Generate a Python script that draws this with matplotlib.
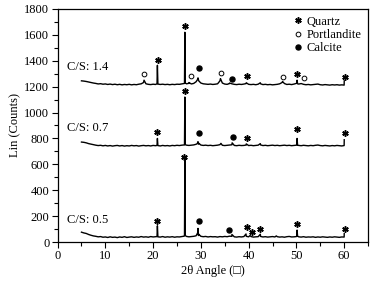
import matplotlib
matplotlib.use('Agg')
import matplotlib.pyplot as plt
import numpy as np

plt.rcParams['font.family'] = ['Liberation Serif', 'DejaVu Serif']
plt.rcParams['font.size'] = 9

# 2theta sampling grid of the traces (5..60 deg, 0.5 deg)
angle = np.arange(5, 60.25, 0.5)

# background counts
b05 = [76, 70, 66, 58, 52, 47, 44, 40, 42, 37, 39, 35, 40, 36, 38, 34, 39, 36, 41, 35,
       38, 40, 36, 39, 37, 42, 38, 40, 37, 42, 39, 41, 40, 38, 42, 37, 40, 38, 41, 37,
       40, 39, 42, 45, 43, 40, 42, 44, 48, 50, 44, 41, 43, 39, 42, 40, 41, 38, 42, 40,
       43, 41, 45, 44, 40, 38, 41, 39, 42, 44, 40, 42, 38, 40, 41, 43, 39, 41, 38, 40,
       42, 39, 41, 38, 40, 37, 41, 43, 39, 40, 42, 40, 38, 41, 37, 39, 38, 40, 36, 39,
       37, 40, 38, 36, 39, 37, 40, 38, 36, 39, 38]
b07 = [772, 770, 766, 760, 756, 752, 748, 745, 747, 743, 746, 742, 745, 741, 744, 746, 742, 745, 741, 744,
       742, 746, 743, 745, 741, 744, 746, 743, 745, 742, 746, 744, 745, 742, 746, 743, 745, 742, 746, 744,
       747, 745, 748, 750, 748, 746, 748, 750, 755, 756, 749, 746, 748, 745, 747, 744, 746, 748, 752, 747,
       745, 747, 749, 751, 746, 744, 747, 745, 746, 749, 745, 747, 744, 746, 748, 750, 745, 747, 744, 746,
       748, 745, 747, 744, 746, 748, 745, 747, 744, 746, 748, 746, 744, 747, 745, 743, 746, 744, 747, 749,
       745, 743, 746, 744, 742, 745, 743, 746, 744, 742, 745]
b14 = [1245, 1243, 1240, 1236, 1232, 1228, 1225, 1221, 1223, 1219, 1221, 1217, 1220, 1216, 1219, 1215, 1218, 1214, 1217, 1215,
       1218, 1214, 1217, 1215, 1219, 1222, 1232, 1222, 1218, 1216, 1219, 1217, 1220, 1217, 1219, 1216, 1218, 1215, 1218, 1216,
       1219, 1218, 1221, 1224, 1222, 1226, 1221, 1225, 1238, 1250, 1228, 1222, 1220, 1218, 1220, 1217, 1219, 1222, 1245, 1228,
       1220, 1218, 1224, 1222, 1218, 1216, 1219, 1217, 1220, 1224, 1218, 1216, 1218, 1215, 1219, 1222, 1216, 1218, 1215, 1217,
       1214, 1216, 1218, 1222, 1232, 1224, 1217, 1219, 1216, 1220, 1225, 1220, 1224, 1218, 1215, 1217, 1214, 1216, 1218, 1220,
       1215, 1213, 1216, 1214, 1212, 1215, 1213, 1215, 1212, 1214, 1212]

# sharp reflections (angle, counts)
pk05_x = [20.82, 20.9, 20.98, 26.57, 26.65, 26.73, 29.32, 29.4, 29.5, 36.5, 39.45, 40.3, 42.45, 45.8, 50.08, 50.15, 50.25, 60.02]
pk05_y = [42, 125, 41, 48, 640, 50, 70, 105, 62, 58, 62, 50, 60, 47, 48, 92, 45, 65]
pk07_x = [20.82, 20.9, 20.98, 26.57, 26.65, 26.73, 29.25, 29.4, 29.6, 34.2, 36.55, 39.5, 42.45, 50.08, 50.15, 50.25, 60.02]
pk07_y = [746, 800, 745, 750, 1120, 752, 760, 775, 762, 762, 766, 758, 760, 750, 800, 748, 790]
pk14_x = [18.1, 20.82, 20.9, 20.98, 26.57, 26.65, 26.73, 27.5, 29.3, 29.4, 29.55, 34.1, 36.0, 39.5, 42.45, 47.1, 50.08, 50.15, 50.25, 60.02]
pk14_y = [1250, 1222, 1365, 1220, 1225, 1620, 1228, 1232, 1255, 1268, 1245, 1262, 1228, 1230, 1230, 1240, 1226, 1250, 1222, 1245]

# phase marks
quartz_x = [26.65, 21.0, 39.6, 50.1, 60.1,
            26.65, 20.8, 39.6, 50.1, 60.1,
            26.5, 20.9, 39.6, 40.7, 42.4, 50.1, 60.1]
quartz_y = [1665, 1406, 1282, 1298, 1272,
            1169, 850, 806, 873, 840,
            659, 165, 118, 80, 103, 137, 103]
portl_x = [18.15, 27.9, 34.2, 47.3, 51.6]
portl_y = [1298, 1282, 1308, 1272, 1264]
calc_x = [29.6, 36.5, 29.6, 36.7, 29.6, 35.8]
calc_y = [1344, 1262, 844, 813, 165, 93]

labels = ['C/S: 1.4', 'C/S: 0.7', 'C/S: 0.5']
label_y = [1354, 883, 170]


def trace(bx, by, px, py):
    x = np.concatenate([bx, px])
    y = np.concatenate([by, py])
    o = np.argsort(x, kind='stable')
    return x[o], y[o]


fig = plt.figure(figsize=(3.74, 2.90), dpi=100)
ax = fig.add_axes([0.154, 0.1655, 0.83, 0.8035])

for b, px, py in [(b05, pk05_x, pk05_y), (b07, pk07_x, pk07_y), (b14, pk14_x, pk14_y)]:
    x, y = trace(angle, np.array(b, float), np.array(px), np.array(py, float))
    ax.plot(x, y, color='black', lw=1.0)

ax.plot(quartz_x, quartz_y, ls='none', marker=(6, 2, 0), ms=4.6, mew=1.1, color='black', label='Quartz')
ax.plot(portl_x, portl_y, ls='none', marker='o', ms=3.4, mfc='white', mec='black', mew=0.7, label='Portlandite')
ax.plot(calc_x, calc_y, ls='none', marker='o', ms=3.6, color='black', label='Calcite')

for t, yy in zip(labels, label_y):
    ax.text(1.9, yy, t, ha='left', va='center', fontsize=9)

ax.set_xlim(0, 65)
ax.set_ylim(0, 1800)
ax.set_xticks(np.arange(0, 61, 10))
ax.set_xticks(np.arange(5, 66, 10), minor=True)
ax.set_yticks(np.arange(0, 1801, 200))
ax.set_yticks(np.arange(100, 1800, 200), minor=True)
ax.tick_params(which='major', direction='out', length=4, width=0.8, labelsize=9, pad=2)
ax.tick_params(which='minor', direction='out', length=3, width=0.8)
ax.set_xlabel('2θ Angle (\u25a1)', fontsize=9, labelpad=2)
ax.set_ylabel('Lin (Counts)', fontsize=9, labelpad=2)
for s in ax.spines.values():
    s.set_linewidth(0.9)

ax.legend(loc='upper right', frameon=False, fontsize=9, handletextpad=0.2,
          labelspacing=0.1, borderaxespad=0.15, handlelength=1.0)

fig.savefig('out.png', dpi=100)
